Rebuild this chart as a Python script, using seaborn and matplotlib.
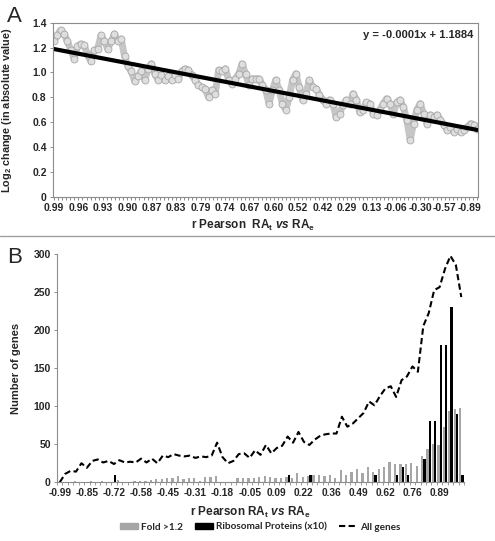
import numpy as np
import pandas as pd
import seaborn as sns
import matplotlib.pyplot as plt
from matplotlib.patches import Patch
from matplotlib.lines import Line2D

# ---- panel A: log2 change (moving window over genes ranked by r Pearson)
a_logfc = [
    1.25, 1.30, 1.34, 1.31, 1.25, 1.18, 1.11, 1.21, 1.23, 1.22,
    1.14, 1.09, 1.18, 1.19, 1.30, 1.25, 1.19, 1.25, 1.31, 1.25,
    1.27, 1.13, 1.05, 1.01, 0.93, 0.97, 1.01, 0.94, 1.03, 1.07,
    0.99, 0.94, 0.98, 0.94, 0.97, 0.94, 0.98, 0.95, 1.01, 1.03,
    1.02, 0.98, 0.94, 0.90, 0.88, 0.87, 0.80, 0.86, 0.83, 1.02,
    1.01, 1.03, 0.94, 0.91, 0.95, 0.99, 1.07, 0.99, 0.90, 0.95,
    0.95, 0.95, 0.90, 0.86, 0.75, 0.86, 0.94, 0.86, 0.75, 0.70,
    0.80, 0.94, 0.99, 0.88, 0.78, 0.83, 0.94, 0.88, 0.87, 0.82,
    0.78, 0.75, 0.78, 0.75, 0.64, 0.67, 0.74, 0.78, 0.75, 0.83,
    0.78, 0.68, 0.70, 0.76, 0.75, 0.67, 0.66, 0.70, 0.75, 0.79,
    0.75, 0.67, 0.76, 0.78, 0.72, 0.62, 0.46, 0.59, 0.70, 0.75,
    0.67, 0.59, 0.66, 0.64, 0.66, 0.62, 0.58, 0.54, 0.56, 0.52,
    0.55, 0.52, 0.54, 0.56, 0.59, 0.58, 0.55,
]
a_last_rank = 6500          # rank of the last read-off point
a_tick_labels = ["0.99", "0.96", "0.93", "0.90", "0.87", "0.83", "0.79", "0.74", "0.67",
                 "0.60", "0.52", "0.42", "0.29", "0.13", "-0.06", "-0.30", "-0.57", "-0.89"]
a_tick_every = 375          # genes between two labels
a_slope, a_intercept = -0.0001, 1.1884

# ---- panel B: histogram over r Pearson bins
b_tick_labels = ["-0.99", "-0.85", "-0.72", "-0.58", "-0.45", "-0.31", "-0.18", "-0.05",
                 "0.09", "0.22", "0.36", "0.49", "0.62", "0.76", "0.89"]
b_fold = [
    0, 0, 1, 2, 0, 1, 2, 1, 2, 1,
    1, 3, 1, 1, 2, 2, 2, 3, 4, 4,
    5, 5, 8, 4, 5, 5, 2, 7, 7, 8,
    1, 0, 0, 5, 5, 5, 6, 7, 8, 7,
    6, 5, 7, 6, 12, 7, 8, 10, 9, 8,
    9, 6, 16, 10, 13, 18, 12, 20, 13, 18,
    20, 27, 24, 24, 24, 25, 22, 34, 44, 50,
    49, 72, 94, 96, 98,
]
b_ribo = [  # raw counts, plotted x10
    0, 0, 0, 0, 0, 0, 0, 0, 0, 0,
    1, 0, 0, 0, 0, 0, 0, 0, 0, 0,
    0, 0, 0, 0, 0, 0, 0, 0, 0, 0,
    0, 0, 0, 0, 0, 0, 0, 0, 0, 0,
    0, 0, 1, 0, 0, 0, 1, 0, 0, 0,
    0, 0, 0, 0, 0, 0, 0, 0, 1, 0,
    0, 0, 1, 2, 1, 0, 0, 3, 8, 8,
    18, 18, 23, 9, 1,
]
b_all = [
    0, 11, 15, 14, 25, 19, 28, 30, 26, 28,
    24, 29, 26, 27, 26, 31, 26, 31, 25, 35,
    33, 37, 35, 34, 35, 32, 34, 33, 35, 52,
    33, 25, 28, 37, 38, 32, 42, 36, 49, 38,
    45, 48, 60, 52, 66, 53, 49, 56, 61, 63,
    64, 64, 86, 73, 77, 84, 91, 106, 101, 113,
    123, 126, 112, 134, 139, 152, 145, 205, 222, 252,
    256, 280, 297, 285, 243,
]

sns.set_style("ticks")
plt.rcParams["font.family"] = ["Liberation Sans", "DejaVu Sans"]
plt.rcParams["font.weight"] = "bold"
plt.rcParams["axes.labelweight"] = "bold"
plt.rcParams["mathtext.fontset"] = "custom"
plt.rcParams["mathtext.rm"] = "Liberation Sans:bold"
plt.rcParams["mathtext.bf"] = "Liberation Sans:bold"
plt.rcParams["mathtext.it"] = "Liberation Sans:italic:bold"

W, H = 495, 541
fig = plt.figure(figsize=(W / 100, H / 100), dpi=100)
ax_a = fig.add_axes([53 / W, 1 - 197 / H, 425 / W, 174.3 / H])
ax_b = fig.add_axes([57 / W, 1 - 482.3 / H, 407 / W, 228.7 / H])
spine_col = "#8c8c8c"

# ---------------- panel A
df_a = pd.DataFrame({"rank": np.linspace(0, a_last_rank, len(a_logfc)), "log2fc": a_logfc})
sns.lineplot(data=df_a, x="rank", y="log2fc", ax=ax_a, color="#c6c6c6", lw=5,
             marker="o", ms=5, mfc="#dedede", mec="#a8a8a8", mew=0.6)

x_end = 6510
trend = pd.DataFrame({"rank": [0, x_end]})
trend["fit"] = a_slope * trend["rank"] + a_intercept
sns.lineplot(data=trend, x="rank", y="fit", ax=ax_a, color="black", lw=3)

ax_a.set_xlim(-15, x_end)
ax_a.set_ylim(0, 1.4)
ax_a.set_xticks([i * a_tick_every for i in range(len(a_tick_labels))])
ax_a.set_xticklabels(a_tick_labels)
ax_a.set_xticks(np.arange(0, x_end, a_tick_every / 6), minor=True)
yt = np.arange(0, 1.41, 0.2)
ax_a.set_yticks(yt)
ax_a.set_yticklabels(["0"] + [f"{v:.1f}" for v in yt[1:]])
ax_a.tick_params(axis="both", which="both", direction="out", length=2.5, width=0.7,
                 color=spine_col, labelsize=7.5, pad=2)
for s in ax_a.spines.values():
    s.set_color(spine_col)
    s.set_linewidth(0.8)
ax_a.text(0.988, 0.93, "y = -0.0001x + 1.1884", transform=ax_a.transAxes,
          ha="right", va="center", fontsize=8, fontweight="bold")
ax_a.set_ylabel(r"Log$_{\rm 2}$ change (in absolute value)", fontsize=7.8)
ax_a.yaxis.set_label_coords(-0.092, 0.5)
ax_a.set_xlabel(r"r Pearson  RA$_{\rm t}$ $\it{vs}$ RA$_{\rm e}$", fontsize=8.5)
ax_a.xaxis.set_label_coords(0.47, -0.12)

# ---------------- panel B
n = len(b_all)
bins = list(range(n))
df_b = pd.DataFrame({
    "bin": bins * 2,
    "series": ["Fold >1.2"] * n + ["Ribosomal Proteins (x10)"] * n,
    "genes": b_fold + [r * 10 for r in b_ribo],
})
sns.barplot(data=df_b, x="bin", y="genes", hue="series", palette=["#a6a6a6", "black"],
            width=0.85, linewidth=0, errorbar=None, legend=False, ax=ax_b)
sns.lineplot(x=bins, y=b_all, ax=ax_b, color="black", lw=1.5, linestyle=(0, (3, 1.6)))

ax_b.set_xlim(-0.5, n - 0.5)
ax_b.set_ylim(0, 300)
ax_b.set_xticks(range(0, 5 * len(b_tick_labels), 5))
ax_b.set_xticklabels(b_tick_labels)
ax_b.set_xticks(np.arange(-0.5, n, 1), minor=True)
ax_b.set_yticks(range(0, 301, 50))
ax_b.tick_params(axis="x", which="major", length=0, labelsize=7.3, pad=4)
ax_b.tick_params(axis="x", which="minor", length=2.5, width=0.6, color=spine_col)
ax_b.tick_params(axis="y", length=2.5, width=0.7, color=spine_col, labelsize=7.5, pad=2)
sns.despine(ax=ax_b)
for s in ["left", "bottom"]:
    ax_b.spines[s].set_color(spine_col)
    ax_b.spines[s].set_linewidth(0.8)
ax_b.set_ylabel("Number of genes", fontsize=8)
ax_b.yaxis.set_label_coords(-0.088, 0.5)
ax_b.set_xlabel(r"r Pearson RA$_{\rm t}$ $\it{vs}$ RA$_{\rm e}$", fontsize=8.5)
ax_b.xaxis.set_label_coords(0.474, -0.1)

handles = [Patch(color="#a6a6a6"), Patch(color="black"),
           Line2D([], [], color="black", lw=1.5, linestyle=(0, (3, 1.6)))]
fig.legend(handles, ["Fold >1.2", "Ribosomal Proteins (x10)", "All genes"],
           loc="center", bbox_to_anchor=(260 / W, 1 - 527 / H), ncol=3, frameon=False,
           prop={"family": "Lato", "weight": "bold", "size": 7.2},
           handlelength=1.8, handleheight=0.55, handletextpad=0.3, columnspacing=1.2)

# separator and panel letters
fig.add_artist(Line2D([0, 1], [1 - 236 / H, 1 - 236 / H], transform=fig.transFigure,
                      color="#a0a0a0", lw=1))
fig.text(7 / W, 1 - 6 / H, "A", fontsize=16, fontweight="normal", va="top", ha="left")
fig.text(7 / W, 1 - 247 / H, "B", fontsize=16, fontweight="normal", va="top", ha="left")

fig.savefig("out.png", dpi=100)
